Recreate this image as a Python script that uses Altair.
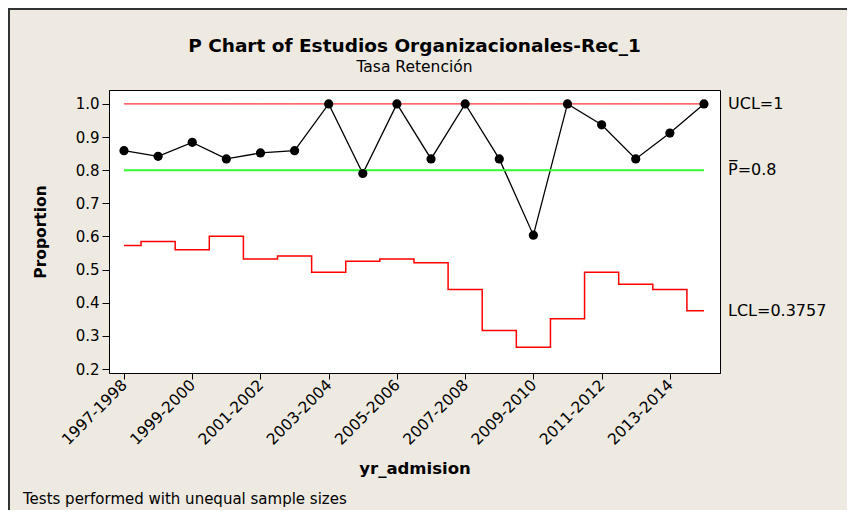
import altair as alt
import pandas as pd

years = ['1997-1998', '1998-1999', '1999-2000', '2000-2001', '2001-2002', '2002-2003',
         '2003-2004', '2004-2005', '2005-2006', '2006-2007', '2007-2008', '2008-2009',
         '2009-2010', '2010-2011', '2011-2012', '2012-2013', '2013-2014', '2014-2015']
proportion = [0.859, 0.842, 0.884, 0.834, 0.852, 0.859, 1.0, 0.790, 1.0, 0.834,
              1.0, 0.834, 0.604, 1.0, 0.937, 0.834, 0.912, 1.0]
lcl = [0.573, 0.585, 0.560, 0.601, 0.532, 0.541, 0.492, 0.525, 0.532, 0.521,
       0.440, 0.316, 0.266, 0.352, 0.492, 0.456, 0.440, 0.3757]
ucl_value = 1.0
center_value = 0.8
lcl_last = 0.3757
tick_years = years[::2][:9]
y_ticks = [0.2, 0.3, 0.4, 0.5, 0.6, 0.7, 0.8, 0.9, 1.0]
ref_labels = ['UCL=1', 'P\u0305=0.8', 'LCL=0.3757']
ref_values = [ucl_value, center_value, lcl_last]
title_text = 'P Chart of Estudios Organizacionales-Rec_1'
subtitle_text = 'Tasa Retención'
footnote = 'Tests performed with unequal sample sizes'

FONT = 'DejaVu Sans'

df = pd.DataFrame({
    'idx': list(range(len(years))),
    'year': years,
    'p': proportion,
    'lcl': lcl,
    'ucl': [ucl_value] * len(years),
    'cl': [center_value] * len(years),
})

label_array = '[' + ','.join("'" + y + "'" for y in years) + ']'

x_scale = alt.Scale(domain=[-0.44, 17.47], nice=False, zero=False)
y_scale = alt.Scale(domain=[0.188, 1.042], nice=False, zero=False)

x_axis = alt.Axis(values=[years.index(t) for t in tick_years],
                  labelExpr=label_array + '[datum.value]',
                  labelAngle=-45, labelAlign='right', labelBaseline='middle',
                  labelFontSize=15.5, labelFont=FONT, labelColor='black',
                  labelOverlap=False, labelBound=False,
                  tickSize=6, tickColor='black', domainColor='black',
                  grid=False, labelPadding=3,
                  titleFont=FONT, titleFontSize=16.5, titleFontWeight='bold',
                  titleColor='black', titlePadding=13)
y_axis = alt.Axis(values=y_ticks,
                  format='.1f', labelFontSize=15, labelFont=FONT,
                  labelColor='black', labelOverlap=False, labelBound=False,
                  tickSize=7, tickColor='black',
                  domainColor='black', grid=False, labelPadding=3,
                  titleFont=FONT, titleFontSize=15.5, titleFontWeight='bold',
                  titleColor='black', titlePadding=27)

x_enc = alt.X('idx:Q', scale=x_scale, title='yr_admision', axis=x_axis)


def y_enc(field):
    return alt.Y(field + ':Q', scale=y_scale, title='Proportion', axis=y_axis)


base = alt.Chart(df)

p_line = base.mark_line(color='black', strokeWidth=1.3).encode(x=x_enc, y=y_enc('p'))
ucl_line = base.mark_line(color='#FF0000', strokeWidth=1).encode(x=x_enc, y=y_enc('ucl'))
cl_line = base.mark_line(color='#33FF33', strokeWidth=2).encode(x=x_enc, y=y_enc('cl'))
lcl_line = base.mark_line(color='#FF0000', strokeWidth=1.5, interpolate='step').encode(
    x=x_enc, y=y_enc('lcl'))
p_pts = base.mark_point(filled=True, color='black', size=85, opacity=1).encode(
    x=x_enc, y=y_enc('p'))

ref_df = pd.DataFrame({'label': ref_labels, 'v': ref_values})
ref_text = alt.Chart(ref_df).mark_text(align='left', baseline='middle', font=FONT,
                                       fontSize=16, color='black').encode(
    x=alt.value(619), y=y_enc('v'), text='label:N')

txt_df = pd.DataFrame({'t': [footnote], 'title': [title_text], 'sub': [subtitle_text]})
foot_text = alt.Chart(txt_df).mark_text(align='left', baseline='alphabetic', font=FONT,
                                        fontSize=15, color='black').encode(
    x=alt.value(-86), y=alt.value(414), text='t:N')
title_mark = alt.Chart(txt_df).mark_text(align='center', baseline='alphabetic', font=FONT,
                                         fontSize=18.5, fontWeight='bold', color='black').encode(
    x=alt.value(305.5), y=alt.value(-38), text='title:N')
sub_mark = alt.Chart(txt_df).mark_text(align='center', baseline='alphabetic', font=FONT,
                                       fontSize=15.5, color='black').encode(
    x=alt.value(305.5), y=alt.value(-18), text='sub:N')

frame_top = alt.Chart(txt_df).mark_rule(color='#333333', strokeWidth=2).encode(
    x=alt.value(-101), x2=alt.value(740), y=alt.value(-81))
frame_left = alt.Chart(txt_df).mark_rule(color='#333333', strokeWidth=2).encode(
    x=alt.value(-100), y=alt.value(-82), y2=alt.value(430))

chart = alt.layer(p_line, ucl_line, cl_line, lcl_line, p_pts, ref_text, foot_text,
                  title_mark, sub_mark, frame_top, frame_left).properties(
    width=611, height=283,
    autosize=alt.AutoSizeParams(type='none'),
    padding={'left': 101, 'top': 82, 'right': 127, 'bottom': 137},
).configure(background='#EEEAE1').configure_view(stroke='black', strokeWidth=1, fill='white')

chart.save('out.html', embed_options={'renderer': 'svg', 'actions': False})
